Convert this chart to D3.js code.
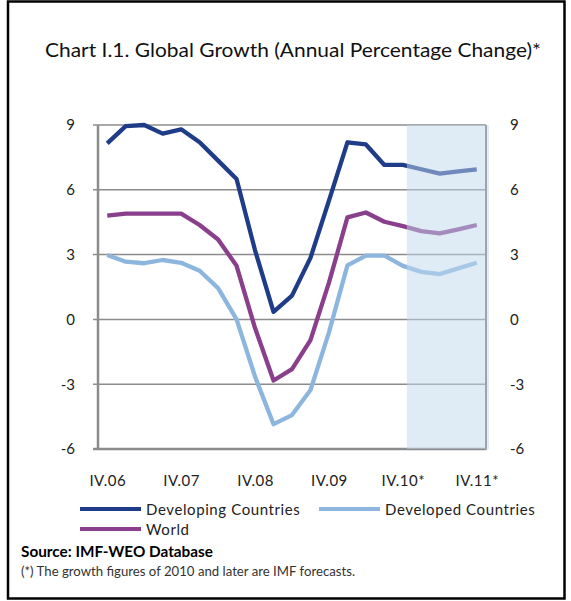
<!DOCTYPE html>
<html>
<head>
<meta charset="utf-8">
<script src="https://cdn.jsdelivr.net/npm/d3@7"></script>
<style>
  body { margin: 0; background: #fff; }
  svg { display: block; font-family: Lato, "Open Sans", sans-serif; }
</style>
</head>
<body>
<svg id="chart" width="571" height="601"></svg>
<script>
const quarters = ["IV.06","I.07","II.07","III.07","IV.07","I.08","II.08","III.08","IV.08",
  "I.09","II.09","III.09","IV.09","I.10","II.10","III.10","IV.10","I.11","II.11","III.11","IV.11"];
const developing = [8.15,8.95,9.0,8.6,8.8,8.2,7.35,6.5,3.2,0.35,1.1,2.85,5.5,8.2,8.1,7.15,7.15,6.95,6.75,6.85,6.95];
const developed = [2.98,2.67,2.6,2.75,2.62,2.25,1.45,0.0,-2.65,-4.85,-4.43,-3.27,-0.6,2.5,2.95,2.95,2.48,2.2,2.1,2.36,2.62];
const world = [4.8,4.9,4.9,4.9,4.9,4.37,3.7,2.48,-0.4,-2.83,-2.3,-0.96,1.7,4.72,4.95,4.52,4.32,4.09,3.98,4.17,4.37];
const yTicks = [-6,-3,0,3,6,9];
const tickLabels = ["IV.06","IV.07","IV.08","IV.09","IV.10*","IV.11*"];
const forecastFrom = "IV.10";

const series = [
  {name: "Developing Countries", values: developing, color: "#1f3c88"},
  {name: "Developed Countries", values: developed, color: "#8db6de"},
  {name: "World", values: world, color: "#8a3f8c"}
];

const svg = d3.select("#chart");
const plotL = 98, plotR = 486, plotT = 125, plotB = 449;

// outer frame
svg.append("rect")
  .attr("x", 8).attr("y", 1.5).attr("width", 556.5).attr("height", 597)
  .attr("fill", "none").attr("stroke", "#000").attr("stroke-width", 2.5);

svg.append("text")
  .attr("x", 45).attr("y", 57)
  .attr("textLength", 496).attr("lengthAdjust", "spacingAndGlyphs")
  .attr("font-size", 19).attr("fill", "#111")
  .text("Chart I.1. Global Growth (Annual Percentage Change)*");

const x = d3.scalePoint().domain(quarters).range([plotL, plotR]).padding(0.5);
const y = d3.scaleLinear().domain([-6, 9]).range([plotB, plotT]);

// gridlines
svg.append("g").selectAll("line")
  .data(yTicks)
  .join("line")
    .attr("x1", plotL - 5).attr("x2", plotR)
    .attr("y1", d => y(d)).attr("y2", d => y(d))
    .attr("stroke", "#8c8c8c")
    .attr("stroke-width", d => d === -6 ? 2.5 : 1.5);

svg.append("line")
  .attr("x1", plotL).attr("x2", plotL).attr("y1", plotT).attr("y2", plotB + 1)
  .attr("stroke", "#8c8c8c").attr("stroke-width", 2.5);

// left / right tick labels (plain hyphen for negatives)
const fmt = d => String(d);
const yLeft = d3.axisLeft(y).tickValues(yTicks).tickSize(0).tickPadding(23).tickFormat(fmt);
svg.append("g").attr("transform", `translate(${plotL},0)`).call(yLeft)
  .call(g => g.select(".domain").remove())
  .selectAll("text").attr("font-size", 15).attr("fill", "#222").attr("font-family", "Lato, sans-serif");

const yRight = d3.axisRight(y).tickValues(yTicks).tickSize(0).tickPadding(24).tickFormat(fmt);
svg.append("g").attr("transform", `translate(${plotR},0)`).call(yRight)
  .call(g => g.select(".domain").remove())
  .selectAll("text").attr("font-size", 15).attr("fill", "#222").attr("font-family", "Lato, sans-serif");

// series lines
const line = d3.line().x((d, i) => x(quarters[i])).y(d => y(d));
svg.append("g").selectAll("path")
  .data(series)
  .join("path")
    .attr("fill", "none")
    .attr("stroke", d => d.color)
    .attr("stroke-width", 4.3)
    .attr("stroke-linejoin", "round")
    .attr("d", d => line(d.values));

// forecast shading (translucent, on top)
svg.append("rect")
  .attr("x", x(forecastFrom) + 4).attr("y", plotT)
  .attr("width", plotR + 3 - x(forecastFrom) - 4).attr("height", plotB - plotT)
  .attr("fill", "#c0d7ec").attr("fill-opacity", 0.5);

svg.append("line")
  .attr("x1", plotR).attr("x2", plotR).attr("y1", plotT).attr("y2", plotB + 1)
  .attr("stroke", "#a0a4aa").attr("stroke-width", 2);

// x labels
const xAxis = d3.axisBottom(x)
  .tickValues(tickLabels.map(t => t.replace("*", "")))
  .tickSize(0).tickPadding(26)
  .tickFormat(d => tickLabels.find(t => t.replace("*", "") === d));
svg.append("g").attr("transform", `translate(0,${plotB})`).call(xAxis)
  .call(g => g.select(".domain").remove())
  .selectAll("text").attr("font-size", 15).attr("fill", "#222").attr("font-family", "Lato, sans-serif")
  .attr("letter-spacing", 0.5);

// legend
const legendPos = [[80, 509], [319, 509], [80, 529]];
const legend = svg.append("g").selectAll("g")
  .data(series)
  .join("g")
    .attr("transform", (d, i) => `translate(${legendPos[i][0]},${legendPos[i][1]})`);
legend.append("line")
  .attr("x1", 0).attr("x2", 61).attr("y1", 0).attr("y2", 0)
  .attr("stroke", d => d.color).attr("stroke-width", 4);
legend.append("text")
  .attr("x", 66).attr("y", 5.5)
  .attr("font-size", 15).attr("fill", "#222").attr("letter-spacing", 0.6)
  .text(d => d.name);

svg.append("text")
  .attr("x", 21).attr("y", 557)
  .attr("textLength", 192).attr("lengthAdjust", "spacingAndGlyphs")
  .attr("font-size", 15).attr("font-weight", "bold").attr("fill", "#000")
  .text("Source: IMF-WEO Database");

svg.append("text")
  .attr("x", 21).attr("y", 576)
  .attr("textLength", 334).attr("lengthAdjust", "spacingAndGlyphs")
  .attr("font-size", 13).attr("fill", "#333")
  .text("(*) The growth figures of 2010 and later are IMF forecasts.");
</script>
</body>
</html>
